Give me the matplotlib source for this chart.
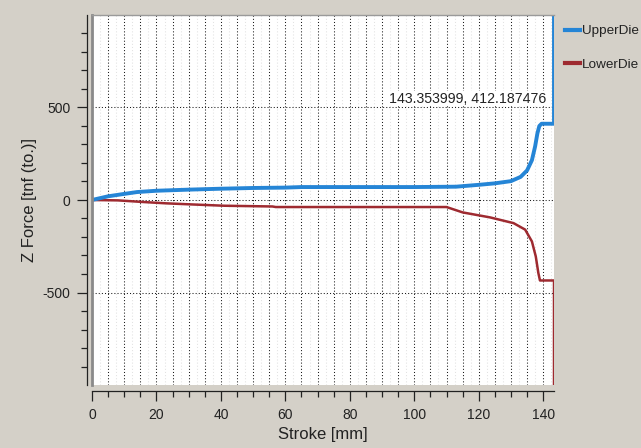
import matplotlib
matplotlib.use("Agg")
import matplotlib.pyplot as plt
from matplotlib.lines import Line2D
from matplotlib.ticker import FixedLocator, NullFormatter
import numpy as np

# stroke [mm] / force [tnf] samples for each die
upper_stroke = [0, 5, 10, 14, 20, 30, 40, 50, 60, 65, 80, 100, 113, 120, 125,
                130, 133, 135, 136.5, 137.5, 138.2, 138.8, 139.5, 143.353999, 143.353999]
upper_force = [0, 20, 33, 43, 50, 56, 61, 65, 67, 70, 70, 70, 72, 82, 90,
               102, 125, 160, 215, 290, 360, 400, 412.187476, 412.187476, 1000]

lower_stroke = [0, 8, 16, 23, 31, 41, 56, 57, 110, 115, 123.5, 130.8, 134.4,
                136.5, 137.7, 138.5, 139, 143.353999, 143.353999]
lower_force = [0, -2, -11, -18, -24, -31, -35, -38, -38, -67, -94, -125, -160,
               -224, -305, -395, -435, -435, -1000]

peak_stroke = 143.353999
peak_force = 412.187476

BG = "#d4d0c8"
BLUE = "#2585d6"
RED = "#9e2a30"

plt.rcParams["font.family"] = ["Liberation Sans", "DejaVu Sans"]
plt.rcParams["axes.unicode_minus"] = False

fig = plt.figure(figsize=(6.41, 4.48), dpi=100, facecolor=BG)
ax = fig.add_axes([92 / 641, 1 - 385 / 448, 462 / 641, 370 / 448])
ax.set_facecolor("white")

# grid: dark dotted every 5 mm, faint in between, horizontal at majors
for xv in np.arange(2.5, 143, 5):
    ax.axvline(xv, color="#e2e2e2", lw=0.75, ls=(0, (1, 2)), zorder=0)
for xv in np.arange(5, 143, 5):
    ax.axvline(xv, color="#1a1a1a", lw=0.75, ls=(0, (1, 2)), zorder=1)
for yv in (-500, 0, 500):
    ax.axhline(yv, color="#1a1a1a", lw=0.75, ls=(0, (1, 2)), zorder=1)

ax.plot(lower_stroke, lower_force, color=RED, lw=1.8, label="LowerDie", zorder=3)
ax.plot(upper_stroke, upper_force, color=BLUE, lw=2.8, label="UpperDie", zorder=4)

ax.set_xlim(0, peak_stroke)
ax.set_ylim(-1000, 1000)

ax.xaxis.set_major_locator(FixedLocator(np.arange(0, 141, 20)))
ax.xaxis.set_minor_locator(FixedLocator(np.arange(0, 143, 5)))
ax.yaxis.set_major_locator(FixedLocator([-500, 0, 500]))
ax.yaxis.set_minor_locator(FixedLocator(np.arange(-900, 901, 100)))
ax.yaxis.set_minor_formatter(NullFormatter())

ax.tick_params(which="major", length=7, width=0.9, color="#222222",
               labelsize=10, labelcolor="#222222")
ax.tick_params(which="minor", length=4, width=0.9, color="#222222")
ax.tick_params(axis="x", which="major", pad=5)
ax.tick_params(axis="y", which="major", pad=5)

# axis lines sit slightly off the plot area
for side in ("top", "right"):
    ax.spines[side].set_visible(False)
ax.spines["left"].set_position(("outward", 3.6))
ax.spines["bottom"].set_position(("outward", 4.3))
ax.spines["left"].set_color("#222222")
ax.spines["bottom"].set_color("#222222")
ax.spines["left"].set_linewidth(0.9)
ax.spines["bottom"].set_linewidth(0.9)

# sunken frame around the plot area
ax.add_line(Line2D([0, 0], [0, 1], transform=ax.transAxes, color="#8a8a8a",
                   lw=2, clip_on=False, zorder=5))
ax.add_line(Line2D([0, 1], [1, 1], transform=ax.transAxes, color="#9a9a9a",
                   lw=1, clip_on=False, zorder=5))

ax.set_xlabel("Stroke [mm]", fontsize=12, color="#222222", labelpad=4)
ax.set_ylabel("Z Force [tnf (to.)]", fontsize=12, color="#222222", labelpad=4)

ax.annotate(f"{peak_stroke:.6f}, {peak_force:.6f}", xy=(peak_stroke, peak_force),
            xytext=(-8, 25), textcoords="offset pixels", ha="right", va="center",
            fontsize=10.2, color="#222222", zorder=6,
            bbox=dict(boxstyle="square,pad=0.05", fc="white", ec="none"))

handles, labels = ax.get_legend_handles_labels()
leg = fig.legend(handles[::-1], labels[::-1], loc="upper left",
                 bbox_to_anchor=(565 / 641, 1 - 25 / 448), frameon=False,
                 fontsize=9.7, handlelength=1.1, handletextpad=0.15,
                 labelspacing=1.55, borderaxespad=0.0, borderpad=0.0)
for t in leg.get_texts():
    t.set_color("#222222")
for h in leg.get_lines():
    h.set_linewidth(3)

fig.savefig("out.png", dpi=100, facecolor=BG)
